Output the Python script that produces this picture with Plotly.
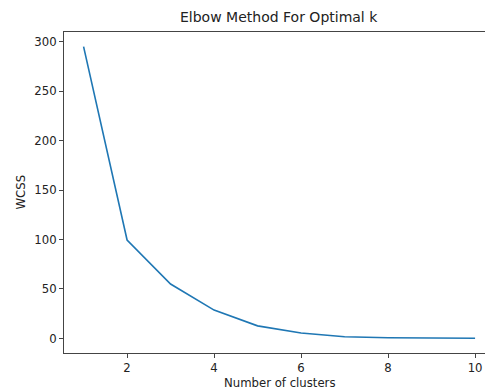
import plotly.graph_objects as go

clusters = [1, 2, 3, 4, 5, 6, 7, 8, 9, 10]
wcss = [295, 99.5, 55, 28.6, 12.7, 5.4, 1.7, 0.6, 0.4, 0.2]
x_ticks = [2, 4, 6, 8, 10]
y_ticks = [0, 50, 100, 150, 200, 250, 300]

title_text = "Elbow Method For Optimal k"
x_label = "Number of clusters"
y_label = "WCSS"

font_family = "DejaVu Sans"
spine = "#444444"
txt = "#222222"
fs = 11.7

fig = go.Figure()
fig.add_trace(go.Scatter(x=clusters, y=wcss, mode="lines",
                         line=dict(color="#1f77b4", width=1.6),
                         hoverinfo="skip", showlegend=False))

fig.update_layout(
    width=485, height=389,
    margin=dict(l=64, r=0, t=32, b=36),
    paper_bgcolor="white", plot_bgcolor="white",
    font=dict(family=font_family, size=fs, color=txt),
    showlegend=False,
    annotations=[
        dict(text=title_text, xref="x", x=5.5, yref="paper", y=1,
             yshift=5, xanchor="center", yanchor="bottom", showarrow=False,
             font=dict(family=font_family, size=14, color=txt)),
        dict(text=x_label, xref="x", x=5.5, yref="paper", y=0,
             yshift=-21, xanchor="center", yanchor="top", showarrow=False,
             font=dict(family=font_family, size=fs, color=txt)),
        dict(text=y_label, xref="paper", x=0, xshift=-44, yref="y", y=147.5,
             textangle=-90, xanchor="center", yanchor="middle", showarrow=False,
             font=dict(family=font_family, size=fs, color=txt)),
    ],
)

fig.update_xaxes(range=[0.55, 10.228], tickvals=x_ticks,
                 ticktext=[str(v) for v in x_ticks],
                 showgrid=False, zeroline=False, ticklabeloverflow="allow",
                 showline=True, linecolor=spine, linewidth=1, mirror=True,
                 ticks="outside", ticklen=4, tickcolor=spine, tickwidth=1,
                 tickfont=dict(family=font_family, size=fs, color=txt))
fig.update_yaxes(range=[-14.75, 309.75], tickvals=y_ticks,
                 ticktext=[str(v) for v in y_ticks],
                 showgrid=False, zeroline=False,
                 showline=True, linecolor=spine, linewidth=1, mirror=False,
                 ticks="outside", ticklen=4, tickcolor=spine, tickwidth=1,
                 tickfont=dict(family=font_family, size=fs, color=txt))

fig.write_html("out.html",
               config={"displayModeBar": False, "staticPlot": True},
               post_script="document.body.style.margin='0px';"
                           "document.body.style.overflow='hidden';")
